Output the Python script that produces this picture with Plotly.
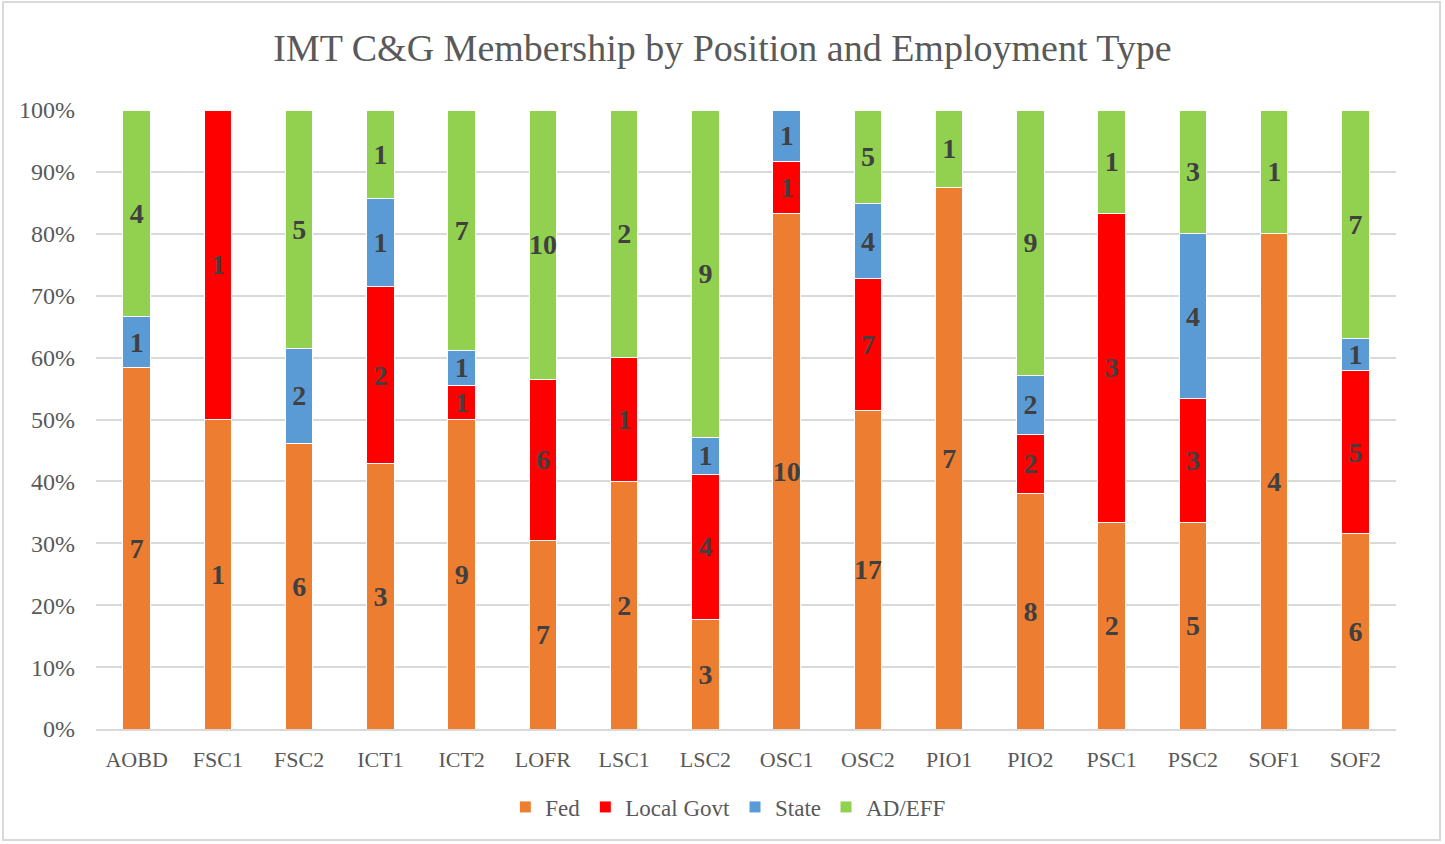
import plotly.graph_objects as go

positions = ["AOBD", "FSC1", "FSC2", "ICT1", "ICT2", "LOFR", "LSC1", "LSC2",
             "OSC1", "OSC2", "PIO1", "PIO2", "PSC1", "PSC2", "SOF1", "SOF2"]

fed = [7, 1, 6, 3, 9, 7, 2, 3, 10, 17, 7, 8, 2, 5, 4, 6]
local_govt = [0, 1, 0, 2, 1, 6, 1, 4, 1, 7, 0, 2, 3, 3, 0, 5]
state = [1, 0, 2, 1, 1, 0, 0, 1, 1, 4, 0, 2, 0, 4, 0, 1]
ad_eff = [4, 0, 5, 1, 7, 10, 2, 9, 0, 5, 1, 9, 1, 3, 1, 7]

series = [
    ("Fed", fed, "#ED7D31"),
    ("Local Govt", local_govt, "#FF0000"),
    ("State", state, "#5B9BD5"),
    ("AD/EFF", ad_eff, "#92D050"),
]

FONT = "Liberation Serif"

fig = go.Figure()
for name, vals, color in series:
    fig.add_trace(go.Bar(
        name=name, x=positions, y=vals,
        marker=dict(color=color, line=dict(color="white", width=1)),
        text=[str(v) if v else "" for v in vals],
        textposition="inside", insidetextanchor="middle",
        textangle=0, constraintext="none",
        textfont=dict(family=FONT, size=28, color="#404040", weight="bold"),
        hoverinfo="x+y+name",
    ))

fig.update_layout(
    barmode="stack", barnorm="percent", bargap=0.66,
    width=1445, height=844,
    margin=dict(l=96, r=49, t=110, b=115),
    paper_bgcolor="white", plot_bgcolor="white",
    font=dict(family=FONT, color="#595959"),
    title=dict(text="IMT C&G Membership by Position and Employment Type",
               x=0.5, xanchor="center", y=0.943, yanchor="middle",
               font=dict(family=FONT, size=38, color="#595959")),
    xaxis=dict(tickfont=dict(size=22, color="#595959"), showgrid=False,
               showline=True, linecolor="#D9D9D9", linewidth=2, ticks="",
               ticklabelstandoff=10),
    yaxis=dict(range=[0, 100], dtick=10, ticksuffix="%",
               tickfont=dict(size=24, color="#595959"),
               gridcolor="#D9D9D9", gridwidth=2, zeroline=False, ticks="",
               ticklabelstandoff=20),
    legend=dict(orientation="h", x=0.486, xanchor="center", y=-0.126, yanchor="middle",
                font=dict(size=23, color="#595959"), traceorder="normal",
                itemwidth=30),
    shapes=[dict(type="rect", xref="paper", yref="paper",
                 x0=-93 / 1300, x1=1 + 44 / 1300, y0=-111 / 619, y1=1 + 108 / 619,
                 line=dict(color="#D9D9D9", width=2))],
)

# drop the default page margin so the figure sits at the window's corner
fig.write_html("out.html", config={"displayModeBar": False},
               post_script="document.body.style.margin='0';")
